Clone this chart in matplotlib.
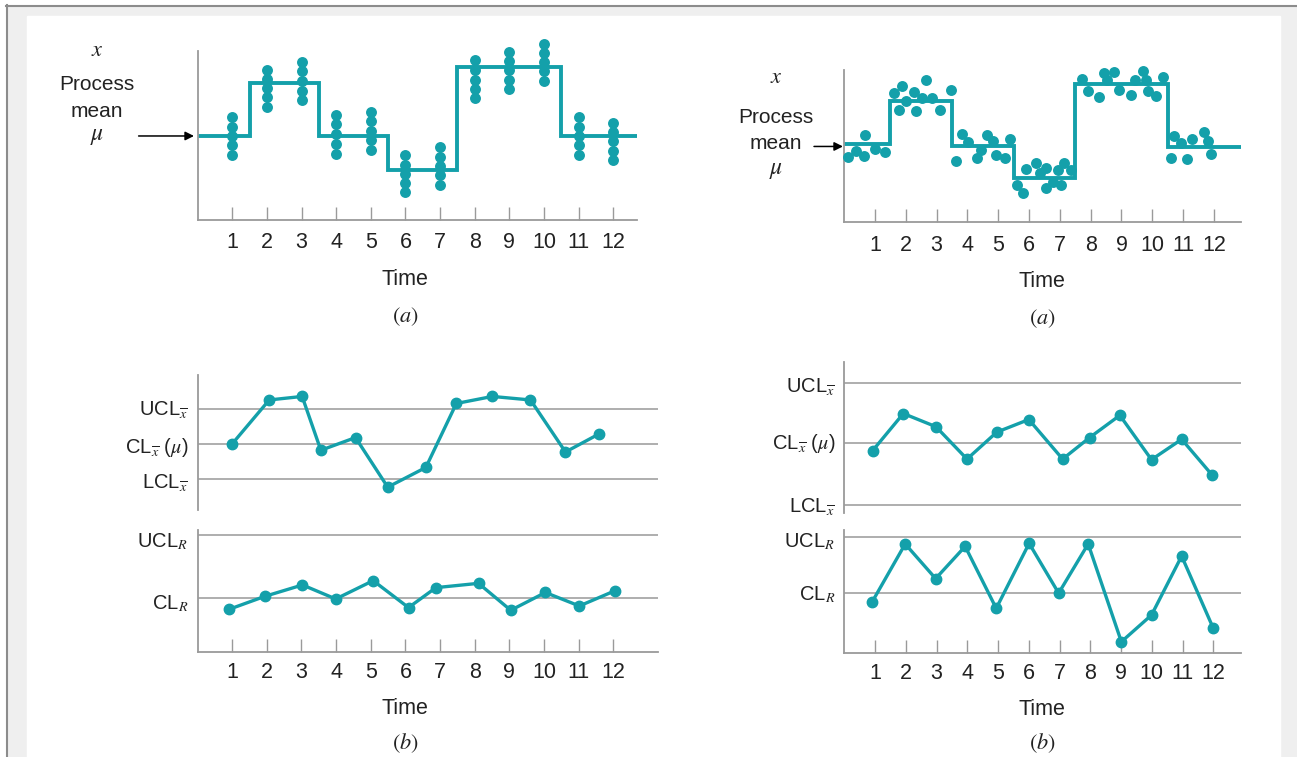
"""
Shewhart x-bar / R charts: process mean shifts vs. chart response
"""

import matplotlib
matplotlib.use("Agg")
import matplotlib.pyplot as plt
from matplotlib.patches import Rectangle
from matplotlib.lines import Line2D

W, H = 1297, 757
TEAL = "#14a0aa"
GRID = "#a8a8a8"
AXIS = "#9a9a9a"

plt.rcParams["font.family"] = ["Liberation Sans", "DejaVu Sans"]
plt.rcParams["mathtext.fontset"] = "stix"

times = list(range(1, 13))
time_labels = [str(t) for t in times]
shift_edges = [1.5, 2.5, 3.5, 4.5, 5.5, 6.5, 7.5, 8.5, 9.5, 10.5, 11.5]

# (a) left: five readings per sample and the process mean in force
left_samples = [
    [12.2, 11.1, 10.0, 8.9, 7.7],
    [17.9, 16.8, 15.7, 14.6, 13.5],
    [18.8, 17.7, 16.5, 15.4, 14.3],
    [12.5, 11.4, 10.2, 9.1, 7.9],
    [12.9, 11.8, 10.6, 9.5, 8.3],
    [7.7, 6.6, 5.5, 4.4, 3.3],
    [8.7, 7.5, 6.4, 5.3, 4.2],
    [19.0, 17.8, 16.7, 15.6, 14.5],
    [20.0, 18.9, 17.8, 16.7, 15.6],
    [21.0, 19.9, 18.8, 17.7, 16.6],
    [12.2, 11.1, 10.0, 8.9, 7.7],
    [11.6, 10.5, 9.4, 8.2, 7.1],
]
left_mean = [10.0, 16.3, 16.3, 10.0, 10.0, 6.0, 6.0, 18.25, 18.25, 18.25, 10.0, 10.0]

# (a) right: individual readings scattered in time
right_obs_t = [
    0.11, 0.39, 0.63, 0.66, 0.99, 1.31,
    1.61, 1.87, 1.77, 2.02, 2.28, 2.32, 2.51, 2.64, 2.85, 3.11, 3.47,
    3.63, 3.82, 4.02, 4.31, 4.44, 4.62, 4.83, 4.92, 5.23, 5.38,
    5.60, 5.81, 5.91, 6.24, 6.36, 6.54, 6.56, 6.78, 6.95, 7.03, 7.15, 7.35,
    7.73, 7.92, 8.27, 8.42, 8.54, 8.77, 8.91, 9.31, 9.44, 9.70, 9.81, 9.87, 10.13, 10.36,
    10.60, 10.69, 10.92, 11.12, 11.30, 11.67, 11.82, 11.92,
]
right_obs_x = [
    8.52, 9.34, 8.69, 11.40, 9.57, 9.21,
    16.99, 17.95, 14.81, 15.90, 17.17, 14.68, 16.33, 18.65, 16.33, 14.81, 17.34,
    8.03, 11.66, 10.52, 8.39, 9.48, 11.40, 10.66, 8.82, 8.39, 10.96,
    4.89, 3.80, 6.99, 7.81, 6.50, 4.50, 7.16, 5.32, 6.85, 4.89, 7.73, 6.85,
    18.87, 17.21, 16.46, 19.61, 18.65, 19.74, 17.43, 16.68, 18.65, 19.83, 18.74, 17.21, 16.59, 19.08,
    8.39, 11.31, 10.43, 8.30, 10.96, 11.83, 10.66, 8.91,
]
right_mean = [10.25, 15.94, 15.94, 10.0, 10.0, 5.77, 5.77, 18.22, 18.22, 18.22, 9.83, 9.83]

# (b) left: chart points (CL = 0, limits at +/-1; R chart CL = 1)
left_xbar_t = [1.00, 2.07, 3.02, 3.56, 4.56, 5.49, 6.59, 7.47, 8.51, 9.61, 10.62, 11.60]
left_xbar = [0.0, 1.25, 1.35, -0.18, 0.18, -1.23, -0.67, 1.15, 1.35, 1.25, -0.23, 0.29]
left_xbar_limits = [1.0, 0.0, -1.0]
left_r_t = [0.92, 1.95, 3.03, 3.99, 5.07, 6.09, 6.88, 8.11, 9.04, 10.04, 11.02, 12.04]
left_r = [0.80, 1.04, 1.25, 0.99, 1.33, 0.83, 1.20, 1.28, 0.78, 1.11, 0.86, 1.14]
left_r_limits = [2.17, 1.0]

# (b) right
right_xbar_t = [0.92, 1.92, 2.98, 3.99, 4.96, 6.00, 7.10, 7.98, 8.96, 9.99, 10.97, 11.95]
right_xbar = [-0.13, 0.49, 0.27, -0.27, 0.18, 0.39, -0.27, 0.09, 0.46, -0.28, 0.06, -0.53]
right_xbar_limits = [1.0, 0.0, -1.03]
right_r_t = [0.91, 1.98, 2.97, 3.93, 4.94, 6.01, 6.97, 7.93, 9.01, 9.99, 10.97, 12.00]
right_r = [0.85, 1.80, 1.23, 1.76, 0.74, 1.81, 0.99, 1.80, 0.19, 0.63, 1.60, 0.41]
right_r_limits = [1.92, 1.0]

xbar_names = [r"UCL$_{\overline{x}}$", r"CL$_{\overline{x}}$ ($\mu$)", r"LCL$_{\overline{x}}$"]
r_names = [r"UCL$_R$", r"CL$_R$"]


fig = plt.figure(figsize=(W / 100, H / 100), dpi=100)


def px_axes(left, top, right, bottom):
    ax = fig.add_axes([left / W, 1 - bottom / H, (right - left) / W, (bottom - top) / H])
    ax.patch.set_alpha(0)
    for side in ("top", "right"):
        ax.spines[side].set_visible(False)
    for side in ("left", "bottom"):
        ax.spines[side].set_color(AXIS)
        ax.spines[side].set_linewidth(1.3)
    ax.set_yticks([])
    return ax


def time_axis(ax, xmax, pad):
    ax.set_xlim(0, xmax)
    ax.set_xticks(times)
    ax.set_xticklabels(time_labels)
    ax.tick_params(axis="x", direction="in", length=9.5, width=1, color=AXIS,
                   pad=pad, labelsize=15.5, labelcolor="#222222")


def no_time_axis(ax, xmax):
    ax.set_xlim(0, xmax)
    ax.spines["bottom"].set_visible(False)
    ax.set_xticks([])


def ptext(x, y, s, **kw):
    kw.setdefault("ha", "center")
    kw.setdefault("va", "baseline")
    kw.setdefault("fontsize", 15)
    kw.setdefault("color", "#222222")
    fig.text(x / W, 1 - y / H, s, **kw)


def frame():
    fig.patches.append(Rectangle((8 / W, 0), (W - 8) / W, (H - 7) / H,
                                 transform=fig.transFigure, color="#efefef", zorder=-5))
    fig.patches.append(Rectangle((27 / W, 0), (1280 - 27) / W, (H - 16) / H,
                                 transform=fig.transFigure, color="white", zorder=-4))
    fig.add_artist(Line2D([6 / W, 1], [1 - 6 / H] * 2, color="#8c8c8c", lw=1.5))
    fig.add_artist(Line2D([7 / W] * 2, [0, 1 - 5 / H], color="#8c8c8c", lw=1.5))


def mean_labels(cx, base_x, base_proc, base_mean, base_mu):
    ptext(cx, base_x, r"$x$", fontsize=16)
    ptext(cx, base_proc, "Process")
    ptext(cx, base_mean, "mean")
    ptext(cx, base_mu, r"$\mu$", fontsize=17)


def draw_left_a():
    ax = px_axes(197.8, 50.7, 636.7, 220)
    time_axis(ax, 12.68, pad=9)
    ax.set_ylim(0, 20.15)
    ax.stairs(left_mean, [0] + shift_edges + [12.68], baseline=None,
              color=TEAL, lw=2.8, zorder=2)
    for t, vals in zip(times, left_samples):
        ax.scatter([t] * len(vals), vals, s=62, color=TEAL, lw=0, zorder=3, clip_on=False)
    ax.annotate("", xy=(-0.11, 10), xytext=(-1.71, 10), annotation_clip=False,
                arrowprops=dict(arrowstyle="-|>", color="black", lw=1.1, mutation_scale=13,
                                shrinkA=0, shrinkB=0))
    mean_labels(97, 56, 90, 116.7, 140)
    ptext(405, 285, "Time", fontsize=15.5)
    ptext(405, 317, r"$(a)$", fontsize=16, va="center")


def draw_right_a():
    ax = px_axes(844.2, 70, 1241, 222.3)
    time_axis(ax, 12.88, pad=9)
    ax.set_ylim(0, 20)
    ax.stairs(right_mean, [0] + shift_edges + [12.88], baseline=None,
              color=TEAL, lw=2.8, zorder=2)
    ax.scatter(right_obs_t, right_obs_x, s=62, color=TEAL, lw=0, zorder=3, clip_on=False)
    ax.annotate("", xy=(-0.04, 9.96), xytext=(-0.98, 9.96), annotation_clip=False,
                arrowprops=dict(arrowstyle="-|>", color="black", lw=1.1, mutation_scale=13,
                                shrinkA=0, shrinkB=0))
    mean_labels(776, 83.3, 122.7, 149.3, 174)
    ptext(1042, 287, "Time", fontsize=15.5)
    ptext(1042, 319, r"$(a)$", fontsize=16, va="center")


def control_chart(box, ylim, xmax, limits, t, vals, with_time):
    ax = px_axes(*box)
    ax.set_ylim(*ylim)
    if with_time:
        time_axis(ax, xmax, pad=7)
    else:
        no_time_axis(ax, xmax)
    for lim in limits:
        ax.axhline(lim, color=GRID, lw=1.3, zorder=1)
    ax.plot(t, vals, color=TEAL, lw=2.4, marker="o", ms=7.5, zorder=3, clip_on=False)
    return ax


def draw_b():
    # left pair
    control_chart((197.5, 375, 658, 510), (-1.88, 1.96), 13.29,
                  left_xbar_limits, left_xbar_t, left_xbar, False)
    control_chart((197.5, 530, 658, 652.3), (0, 2.27), 13.29,
                  left_r_limits, left_r_t, left_r, True)
    for name, y in zip(xbar_names, [416, 452.7, 489]):
        ptext(188, y, name, ha="right", fontsize=14.5)
    for name, y in zip(r_names, [547, 609]):
        ptext(188, y, name, ha="right", fontsize=14.5)
    ptext(405, 714, "Time", fontsize=15.5)
    ptext(405, 743, r"$(b)$", fontsize=16, va="center")

    # right pair
    control_chart((844.3, 362, 1240.7, 513), (-1.17, 1.35), 12.89,
                  right_xbar_limits, right_xbar_t, right_xbar, False)
    control_chart((844.3, 530, 1240.7, 653.3), (0, 2.03), 12.89,
                  right_r_limits, right_r_t, right_r, True)
    for name, y in zip(xbar_names, [393, 449, 513]):
        ptext(835, y, name, ha="right", fontsize=14.5)
    for name, y in zip(r_names, [547, 600]):
        ptext(835, y, name, ha="right", fontsize=14.5)
    ptext(1042, 715, "Time", fontsize=15.5)
    ptext(1042, 743, r"$(b)$", fontsize=16, va="center")


frame()
draw_left_a()
draw_right_a()
draw_b()

fig.savefig("out.png", dpi=100)
